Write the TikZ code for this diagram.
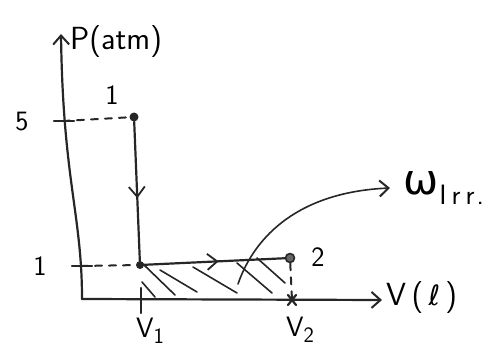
\documentclass[tikz,border=0pt]{standalone}
\usepackage{fontspec}
\newfontfamily\dvfont{DejaVu Sans}
\usetikzlibrary{arrows.meta,decorations.markings}
\begin{document}
\begin{tikzpicture}[x=1pt,y=-1pt, line cap=round, line join=round,
  ink/.style={line width=2.2pt, black!85},
  thinink/.style={line width=1.6pt, black!85},
  dashink/.style={line width=2pt, black!85, dash pattern=on 7pt off 7pt},
  lbl/.style={font=\sffamily\fontsize{28}{30}\selectfont, inner sep=0pt},
  barb/.style={-{Straight Barb[length=9pt,width=16pt,line width=2pt]}},
  dot/.style={circle, fill=black!85, inner sep=0pt, minimum size=9pt},
  ring/.style={circle, draw=black!85, fill=black!60, line width=1.6pt, inner sep=0pt, minimum size=9pt},
  midarrow/.style={decoration={markings, mark=at position #1 with {\arrow{Straight Barb[length=10pt,width=16pt,line width=1.8pt]}}}, postaction={decorate}}
]
\useasboundingbox (0,0) rectangle (504,353);
% points
\node[dot] (p1) at (134,117) {};
\node[dot, minimum size=8pt] (pc) at (140,265) {};
\node[ring] (p2) at (290,258) {};
% axis coordinates
\coordinate (yb) at (82,299);
\coordinate (yt) at (61,34);
\coordinate (xe) at (382,300);
\coordinate (t5) at (63,121);
\coordinate (t1) at (81,266);
\coordinate (v1) at (141,300);
\coordinate (v2) at (292,300);
% axes
\draw[ink, barb] (yb) .. controls (82,215) and (63,180) .. (yt);
\draw[ink, barb] (yb) -- (xe);
% ticks
\draw[ink] (t5) ++(-9,0) -- ++(20,0);
\draw[ink] (t1) ++(-9,0) -- ++(20,0);
\draw[ink] (v1) ++(0,-12) -- ++(0,25);
\draw[ink] (v2) ++(-4,-5) -- ++(8,10);
\draw[ink] (v2) ++(4,-5) -- ++(-8,10);
% dashed guides
\draw[dashink] (t5) -- (p1);
\draw[dashink] (t1) -- (pc);
\draw[dashink] (p2) -- (v2);
% process path
\draw[ink, midarrow=0.55] (p1) -- (pc);
\draw[ink, midarrow=0.53] (pc) -- (p2);
% hatching
\draw[thinink] (142,263) -- (175,295);
\draw[thinink] (160,270) -- (197,292);
\draw[thinink] (193,267) -- (237,293);
\draw[thinink] (237,263) -- (272,293);
\draw[thinink] (257,258) -- (285,283);
\draw[thinink] (142,282) -- (155,297);
% labels
\node[lbl] (l5) at (22,122) {5};
\node[lbl] (l1y) at (40,266) {1};
\node[lbl] (lp1) at (112,95) {1};
\node[lbl] (lp2) at (318,257) {2};
\node[lbl] (lv1) at (150,331) {V\raisebox{-6pt}{\fontsize{22}{24}\selectfont 1}};
\node[lbl] (lv2) at (300,330) {V\raisebox{-6pt}{\fontsize{22}{24}\selectfont 2}};
\node[lbl, anchor=west, font=\sffamily\fontsize{32}{34}\selectfont] (vl) at (386,298) {V\,(\,{\dvfont\fontsize{28}{30}\selectfont ℓ}\,)};
\node[lbl, anchor=west, font=\sffamily\fontsize{32}{34}\selectfont] (pl) at (70,42) {P(atm)};
\node[lbl, anchor=west] (wl) at (403,188) {{\dvfont\fontsize{42}{44}\selectfont ω}\kern1pt\raisebox{-10pt}{\fontsize{28}{30}\selectfont I\kern5pt r\kern5pt r\kern2pt .}};
% work pointer
\draw[thinink, barb] (238,284) .. controls (255,235) and (300,192) .. ([xshift=-13pt]wl.west);
\end{tikzpicture}
\end{document}
